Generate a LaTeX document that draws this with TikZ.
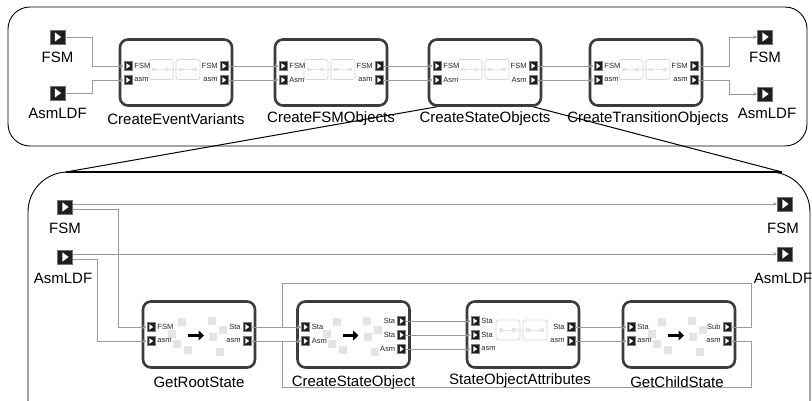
\documentclass[tikz,border=0pt]{standalone}
\usepackage{fontspec}
\setmainfont{Liberation Sans}
\usetikzlibrary{arrows.meta,calc}
\definecolor{boxline}{HTML}{3C3C3C}
\definecolor{wiregray}{HTML}{9A9A9A}
\definecolor{portfill}{HTML}{1E1E1E}
\definecolor{faintline}{HTML}{D6D6D6}
\definecolor{faintfill}{HTML}{E4E4E4}
\tikzset{
  panel/.style={draw=black, line width=0.9pt},
  blk/.style={draw=boxline, line width=2.6pt, rounded corners=8pt, fill=white,
    minimum width=112pt, minimum height=66pt, inner sep=0pt},
  prt/.style={draw=black!50, fill=portfill, line width=0.5pt, minimum width=8pt,
    minimum height=9pt, inner sep=0pt,
    path picture={\fill[white] ([xshift=-1.6pt,yshift=2.8pt]path picture bounding box.center)
      -- ([xshift=2.2pt]path picture bounding box.center)
      -- ([xshift=-1.6pt,yshift=-2.8pt]path picture bounding box.center) -- cycle;}},
  xprt/.style={draw=black!55, fill=portfill, line width=0.6pt, minimum width=15pt,
    minimum height=14pt, inner sep=0pt,
    path picture={\fill[white] ([xshift=-2.6pt,yshift=4.6pt]path picture bounding box.center)
      -- ([xshift=3.6pt]path picture bounding box.center)
      -- ([xshift=-2.6pt,yshift=-4.6pt]path picture bounding box.center) -- cycle;}},
  wire/.style={draw=wiregray, line width=0.8pt},
  arr/.style={wire, -{Stealth[length=4pt,width=3.5pt]}},
  plab/.style={font=\fontsize{7.5}{8}\selectfont, inner sep=0pt, text=black!85},
  blab/.style={font=\fontsize{15}{15}\selectfont, inner sep=0pt},
  zoomline/.style={draw=black, line width=1pt},
}
\newcommand\mkin[4]{\node[prt] (#1) at (#2,#3) {}; \node[plab, anchor=west] (#1-l) at ([xshift=2pt]#1.east) {#4};}
\newcommand\mkout[4]{\node[prt] (#1) at (#2,#3) {}; \node[plab, anchor=east] (#1-l) at ([xshift=-2pt]#1.west) {#4};}
\newcommand\decoA[2]{%
  \begin{scope}[shift={(#1,#2)}]
    \draw[faintline, line width=0.7pt, rounded corners=2.5pt] (-27,-13) rectangle (-3,7);
    \draw[faintline, line width=0.7pt, rounded corners=2.5pt] (0,-13) rectangle (24,7);
    \draw[faintline, densely dotted, line width=0.6pt] (-22,-3) -- (19,-3);
    \foreach \x in {-22,-9,5,19} {\fill[faintfill] (\x-1.8,-4.8) rectangle ++(3.6,3.6);}
  \end{scope}}
\newcommand\decoB[2]{%
  \begin{scope}[shift={(#1,#2)}]
    \foreach \x/\y in {-17/-13,-27/-1,-22/9,-11/15,13/-14,24/-5,14/2,21/17}
      {\fill[faintfill] (\x-4,\y-4) rectangle ++(8,8);}
    \draw[black, line width=2.6pt, -{Triangle[length=5.5pt,width=10pt]}] (-11,1) -- (5,1);
  \end{scope}}

\begin{document}
\begin{tikzpicture}[x=1pt, y=-1pt]
\clip (0,0) rectangle (812,401);
\useasboundingbox (0,0) rectangle (812,401);

% ---------- panels ----------
\draw[panel, rounded corners=22pt] (8,7) rectangle (807,146);
\draw[panel, rounded corners=40pt] (28,172) rectangle (810,440);

% ---------- top row ----------
\node[blk] (t1) at (176,72.5) {};
\node[blk] (t2) at (331,72.5) {};
\node[blk] (t3) at (485,72.5) {};
\node[blk] (t4) at (646,72.5) {};
\decoA{176}{72.5}
\decoA{331}{72.5}
\decoA{485}{72.5}
\decoA{646}{72.5}

\mkin{t1i1}{128}{66}{FSM} \mkin{t1i2}{128}{80}{asm}
\mkout{t1o1}{224}{66}{FSM} \mkout{t1o2}{224}{80}{asm}
\mkin{t2i1}{283}{66}{FSM} \mkin{t2i2}{283}{80}{Asm}
\mkout{t2o1}{379}{66}{FSM} \mkout{t2o2}{379}{80}{asm}
\mkin{t3i1}{437}{66}{FSM} \mkin{t3i2}{437}{80}{Asm}
\mkout{t3o1}{533}{66}{FSM} \mkout{t3o2}{533}{80}{Asm}
\mkin{t4i1}{598}{66}{FSM} \mkin{t4i2}{598}{80}{asm}
\mkout{t4o1}{694}{66}{FSM} \mkout{t4o2}{694}{80}{asm}

\node[xprt] (tF) at (57.5,37) {};
\node[xprt] (tA) at (57.5,93) {};
\node[xprt] (tFr) at (765,37) {};
\node[xprt] (tAr) at (765,94) {};
\node[blab] (tF-l) at (57.5,57) {FSM};
\node[blab] (tA-l) at (57.5,113) {AsmLDF};
\node[blab] (tFr-l) at (765,57) {FSM};
\node[blab] (tAr-l) at (767,113) {AsmLDF};

\node[blab] (t1-l) at (176,119) {CreateEventVariants};
\node[blab] (t2-l) at (331,119) {CreateFSMObjects};
\node[blab] (t3-l) at (485,119) {CreateStateObjects};
\node[blab] (t4-l) at (648,119) {CreateTransitionObjects};

\draw[arr] (tF.east) -- ++(27,0) |- (t1i1.west);
\draw[arr] (tA.east) -- ++(27,0) |- (t1i2.west);
\draw[arr] (t1o1.east) -- (t2i1.west);
\draw[arr] (t1o2.east) -- (t2i2.west);
\draw[arr] (t2o1.east) -- (t3i1.west);
\draw[arr] (t2o2.east) -- (t3i2.west);
\draw[arr] (t3o1.east) -- (t4i1.west);
\draw[arr] (t3o2.east) -- (t4i2.west);
\draw[arr] (t4o1.east) -- ++(31,0) |- (tFr.west);
\draw[arr] (t4o2.east) -- ++(31,0) |- (tAr.west);

% ---------- bottom row ----------
\node[blk] (g1) at (199,334.5) {};
\node[blk] (g2) at (353.5,334.5) {};
\node[blk] (g3) at (523,334.5) {};
\node[blk] (g4) at (679,334.5) {};
\decoB{199}{334.5}
\decoB{353.5}{334.5}
\decoA{523}{333}
\decoB{679}{334.5}

\mkin{g1i1}{151}{327}{FSM} \mkin{g1i2}{151}{341}{asm}
\mkout{g1o1}{247}{327}{Sta} \mkout{g1o2}{247}{341}{asm}
\mkin{g2i1}{305.5}{327}{Sta} \mkin{g2i2}{305.5}{341}{Asm}
\mkout{g2o1}{401.5}{321}{Sta} \mkout{g2o2}{401.5}{335}{Sta} \mkout{g2o3}{401.5}{349}{Asm}
\mkin{g3i1}{475}{321}{Sta} \mkin{g3i2}{475}{335}{Sta} \mkin{g3i3}{475}{349}{asm}
\mkout{g3o1}{571}{327}{Sta} \mkout{g3o2}{571}{341}{asm}
\mkin{g4i1}{631}{327}{Sta} \mkin{g4i2}{631}{341}{asm}
\mkout{g4o1}{727}{327}{Sub} \mkout{g4o2}{727}{341}{asm}

\node[xprt] (bF) at (65,207) {};
\node[xprt] (bA) at (65,257) {};
\node[xprt] (bFr) at (785,204) {};
\node[xprt] (bAr) at (785,254) {};
\node[blab] (bF-l) at (65,228) {FSM};
\node[blab] (bA-l) at (63,278) {AsmLDF};
\node[blab] (bFr-l) at (783,228) {FSM};
\node[blab] (bAr-l) at (783,278) {AsmLDF};

\node[blab] (g1-l) at (199,382) {GetRootState};
\node[blab] (g2-l) at (353.5,383) {CreateStateObject};
\node[blab] (g3-l) at (520,381) {StateObjectAttributes};
\node[blab] (g4-l) at (677,382) {GetChildState};

\draw[arr] ([yshift=3pt]bF.east) -- (bFr.west);
\draw[arr] ([yshift=3pt]bA.east) -- (bAr.west);
\draw[arr] ([yshift=-2pt]bF.east) -- ++(46,0) |- (g1i1.west);
\draw[arr] ([yshift=-2pt]bA.east) -- ++(24.5,0) |- (g1i2.west);
\draw[arr] (g1o1.east) -- (g2i1.west);
\draw[arr] (g1o2.east) -- (g2i2.west);
\draw[arr] (g2o1.east) -- (g3i1.west);
\draw[arr] (g2o2.east) -- (g3i2.west);
\draw[arr] (g2o3.east) -- (g3i3.west);
\draw[arr] (g3o1.east) -- (g4i1.west);
\draw[arr] (g3o2.east) -- (g4i2.west);
\coordinate (fbtop) at (282,283);
\coordinate (fbbot) at (282,387);
\draw[arr] (g4o1.east) -- ++(20,0) |- (fbtop) |- (g2i1.west);
\draw[arr] (g4o2.east) -- ++(20,0) |- (fbbot) |- (g2i2.west);

% ---------- zoom lines ----------
\coordinate (zl) at (66,172);
\coordinate (zr) at (782,172);
\draw[zoomline] ([xshift=9pt]t3.south west) -- (zl);
\draw[zoomline] ([xshift=-9pt]t3.south east) -- (zr);
\draw[black, line width=1.8pt] (zl) -- (zr);
\end{tikzpicture}
\end{document}
